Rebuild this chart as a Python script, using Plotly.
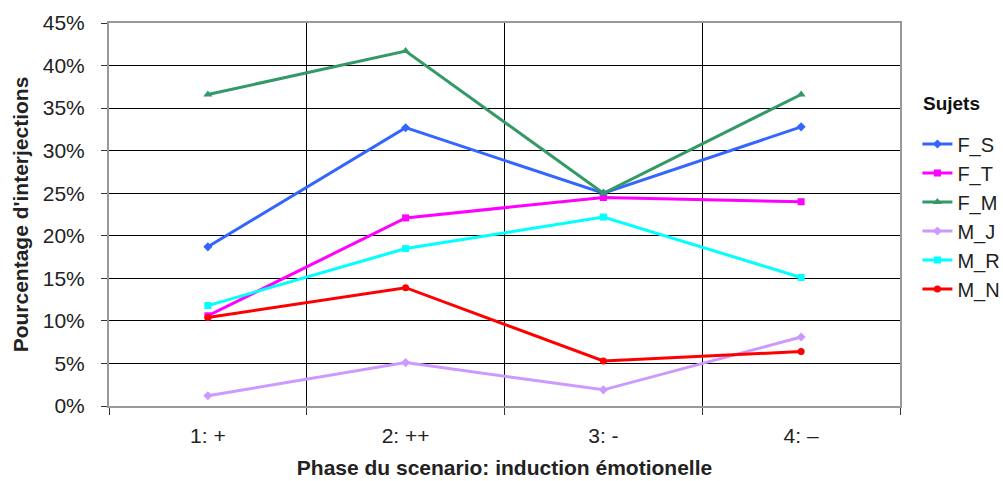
import plotly.graph_objects as go

phases = ["1: +", "2: ++", "3: -", "4: \u2013"]

f_s = [18.7, 32.7, 25.0, 32.8]
f_t = [10.6, 22.1, 24.5, 24.0]
f_m = [36.6, 41.7, 25.0, 36.6]
m_j = [1.2, 5.1, 1.9, 8.1]
m_r = [11.8, 18.5, 22.2, 15.1]
m_n = [10.4, 13.9, 5.3, 6.4]

series = [
    ("F_S", f_s, "#3366FF", "diamond", 7),
    ("F_T", f_t, "#FF00FF", "square", 7),
    ("F_M", f_m, "#339966", "triangle-up", 8),
    ("M_J", m_j, "#CC99FF", "diamond", 7),
    ("M_R", m_r, "#00FFFF", "square", 7),
    ("M_N", m_n, "#FF0000", "circle", 7),
]

fig = go.Figure()
for name, vals, color, symbol, size in series:
    fig.add_trace(go.Scatter(
        x=phases, y=[v / 100 for v in vals], name=name,
        mode="lines+markers",
        line=dict(color=color, width=3),
        marker=dict(symbol=symbol, size=size, color=color),
    ))

font = "Liberation Sans, Arial, sans-serif"
fig.update_layout(
    width=1003, height=481,
    margin=dict(l=109, r=103, t=23, b=75, autoexpand=False),
    paper_bgcolor="white", plot_bgcolor="white",
    font=dict(family=font, size=21, color="#222222"),
    showlegend=True,
    legend=dict(
        x=1.022, y=0.735, xanchor="left", yanchor="top",
        font=dict(size=20),
        tracegroupgap=0, itemwidth=30,
    ),
    annotations=[dict(
        text="<b>Sujets</b>", xref="paper", yref="paper",
        x=1.026, y=0.79, xanchor="left", yanchor="middle",
        showarrow=False, font=dict(size=19, color="#111111"),
    )],
    xaxis=dict(
        type="category", tickson="boundaries",
        showgrid=True, gridcolor="black", gridwidth=1,
        showline=True, linecolor="#999999", linewidth=2, mirror=True,
        ticks="outside", ticklen=7, tickcolor="#333333",
        ticklabelstandoff=10,
        title=dict(text="<b>Phase du scenario: induction émotionelle</b>",
                   font=dict(size=21), standoff=14),
        range=[-0.5, 3.5],
    ),
    yaxis=dict(
        range=[0, 0.45], dtick=0.05, tickformat=".0%",
        showgrid=True, gridcolor="black", gridwidth=1,
        showline=True, linecolor="#999999", linewidth=2, mirror=True,
        ticks="outside", ticklen=6, tickcolor="#333333",
        ticklabelstandoff=12,
        zeroline=False,
        title=dict(text="<b>Pourcentage d'interjections</b>",
                   font=dict(size=21), standoff=8),
    ),
)

fig.write_html("out.html")
